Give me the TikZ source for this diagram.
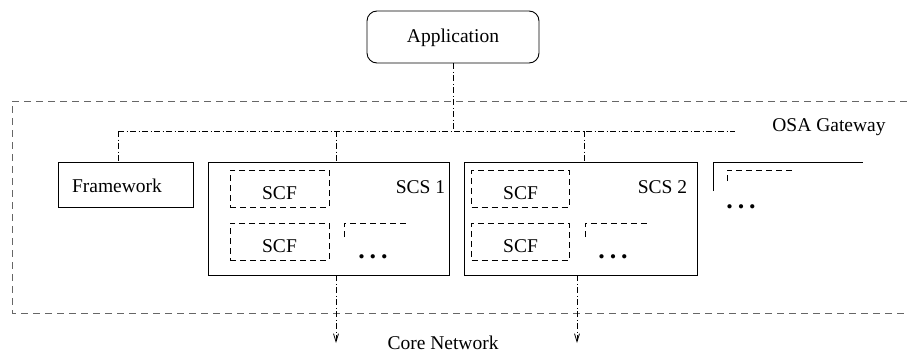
\documentclass[tikz,border=0pt]{standalone}
\usepackage{fontspec}
\setmainfont{Liberation Serif}
\usetikzlibrary{arrows.meta}

\newcommand{\threedots}{.\hspace{5pt}.\hspace{5pt}.}

\tikzset{
  solidbox/.style={draw, line width=0.9pt, inner sep=0pt},
  scfbox/.style={draw, line width=0.9pt, inner sep=0pt, dash pattern=on 6pt off 4pt,
                 minimum width=99pt, minimum height=37pt},
  partial/.style={line width=0.9pt, dash pattern=on 6pt off 4pt},
  dashdot/.style={line width=0.8pt, dash pattern=on 6pt off 2.5pt on 1pt off 2.5pt},
  boundary/.style={line width=1pt, black!60, dash pattern=on 7pt off 5pt},
  lbl/.style={inner sep=0pt, font=\fontsize{19.5}{22}\selectfont},
  dots/.style={inner sep=0pt, font=\fontsize{26}{28}\selectfont\bfseries},
  tip/.style={-{Straight Barb[length=8pt,width=5pt,line width=0.8pt]}}
}

\begin{document}
\begin{tikzpicture}[x=1pt, y=-1pt]
\useasboundingbox (0,0) rectangle (907,353);

% gateway boundary
\draw[boundary] (907,101) -- (12,101) -- (12,313) -- (907,313);
\node[lbl] (osa) at (829,127) {OSA Gateway};

% application
\node[solidbox, rounded corners=10pt, minimum width=172pt, minimum height=52pt] (app) at (453,37) {};
\node[lbl] (apptext) at (453,38) {Application};

% framework
\node[solidbox, minimum width=135pt, minimum height=45pt] (fw) at (125.5,184.5) {};
\node[lbl] (fwtext) at (117,186) {Framework};

% service capability servers
\node[solidbox, minimum width=241pt, minimum height=113pt] (scs1) at (328.5,218.5) {};
\node[solidbox, minimum width=233pt, minimum height=113pt] (scs2) at (580.5,218.5) {};
\node[lbl] (scs1text) at (420.5,187) {SCS 1};
\node[lbl] (scs2text) at (662.5,187) {SCS 2};

% SCF blocks in SCS 1
\node[scfbox] (f11) at (279.5,188.5) {};
\node[scfbox] (f12) at (279.5,241.5) {};
\node[lbl] at (279.5,193) {SCF};
\node[lbl] at (279.5,246) {SCF};
\draw[partial] (344,237) -- (344,223) -- (407,223);
\node[dots] (d1) at (373,257) {\threedots};

% SCF blocks in SCS 2
\node[scfbox, minimum width=97.6pt] (f21) at (520.5,188.5) {};
\node[scfbox, minimum width=97.6pt] (f22) at (520.5,241.5) {};
\node[lbl] at (520.5,193) {SCF};
\node[lbl] at (520.5,246) {SCF};
\draw[partial] (585,237) -- (585,223) -- (648,223);
\node[dots] (d2) at (613,257) {\threedots};

% further servers
\draw[line width=0.9pt] (713,191) -- (713,162) -- (863,162);
\draw[partial] (727,181) -- (727,170) -- (792,170);
\node[dots] (d3) at (741,207) {\threedots};

% interface bus
\coordinate (busL) at (118,131);
\coordinate (busR) at (735,131);
\coordinate (tap1) at (336,131);
\coordinate (tap2) at (584,131);
\draw[dashdot] (busL) -- (busR);
\draw[dashdot] (app.south) -- (app.south |- busL);
\draw[dashdot] (busL) -- (busL |- fw.north);
\draw[dashdot] (tap1) -- (tap1 |- scs1.north);
\draw[dashdot] (tap2) -- (tap2 |- scs2.north);

% links to the core network
\coordinate (cn1) at (336,343);
\coordinate (cn2) at (577,343);
\draw[dashdot, tip] (cn1 |- scs1.south) -- (cn1);
\draw[dashdot, tip] (cn2 |- scs2.south) -- (cn2);
\node[lbl] (core) at (443,343) {Core Network};
\end{tikzpicture}
\end{document}
